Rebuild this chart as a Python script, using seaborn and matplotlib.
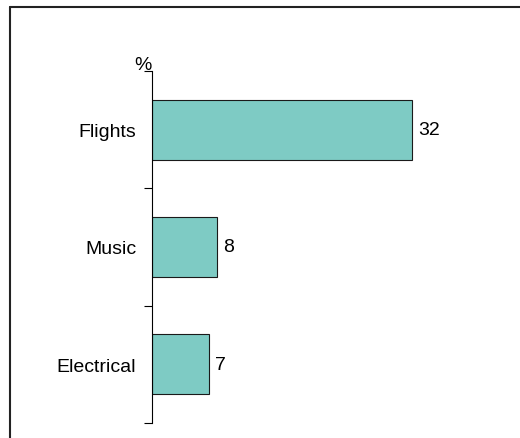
import matplotlib
matplotlib.use("Agg")
import matplotlib.pyplot as plt
from matplotlib.lines import Line2D
import numpy as np
import pandas as pd
import seaborn as sns

categories = ["Flights", "Music", "Electrical"]
values = [32, 8, 7]
unit_label = "%"

sns.set_style("white")
plt.rcParams["font.family"] = ["Liberation Sans", "DejaVu Sans"]
plt.rcParams["text.color"] = "black"
plt.rcParams["ytick.color"] = "black"

df = pd.DataFrame({"category": categories, "value": values})

fig = plt.figure(figsize=(5.2, 4.39), dpi=100)
ax = fig.add_axes([152 / 520, 15 / 439, 325 / 520, 352 / 439])

sns.barplot(data=df, x="value", y="category", orient="h", color="#7ECBC4",
            saturation=1, width=0.51, edgecolor="#1a1a1a", linewidth=0.8, ax=ax)

ax.set_xlim(0, 40)
ax.set_ylim(len(categories) - 0.5, -0.5)

# boundary ticks between categories, labels centred on each bar
ax.set_yticks(np.arange(len(categories) + 1) - 0.5)
ax.set_yticklabels([])
ax.set_yticks(np.arange(len(categories)), minor=True)
ax.set_yticklabels(categories, minor=True, fontsize=14, color="black")
ax.tick_params(axis="y", which="major", direction="out", length=6, width=0.8,
               color="black", left=True)
ax.tick_params(axis="y", which="minor", length=0, pad=11.5, labelcolor="black")

ax.set_xticks([])
ax.set_xlabel("")
ax.set_ylabel("")
for side in ["top", "right", "bottom"]:
    ax.spines[side].set_visible(False)
ax.spines["left"].set_color("black")
ax.spines["left"].set_linewidth(0.8)

for i, v in enumerate(values):
    ax.annotate(f"{v}", xy=(v, i), xytext=(4.5, 0), textcoords="offset points",
                va="center", ha="left", fontsize=14, color="black")

ax.annotate(unit_label, xy=(0, -0.5), xytext=(0, -1.5), textcoords="offset points",
            ha="right", va="bottom", fontsize=14, color="black",
            annotation_clip=False)

# frame lines along the top and left of the chart area
fx = 9.5 / 520
fy = 1 - 7.5 / 439
fig.add_artist(Line2D([fx, 1.1], [fy, fy], transform=fig.transFigure,
                      color="#222222", linewidth=1.5))
fig.add_artist(Line2D([fx, fx], [-0.1, fy], transform=fig.transFigure,
                      color="#222222", linewidth=1.5))

fig.savefig("out.png", dpi=100)
